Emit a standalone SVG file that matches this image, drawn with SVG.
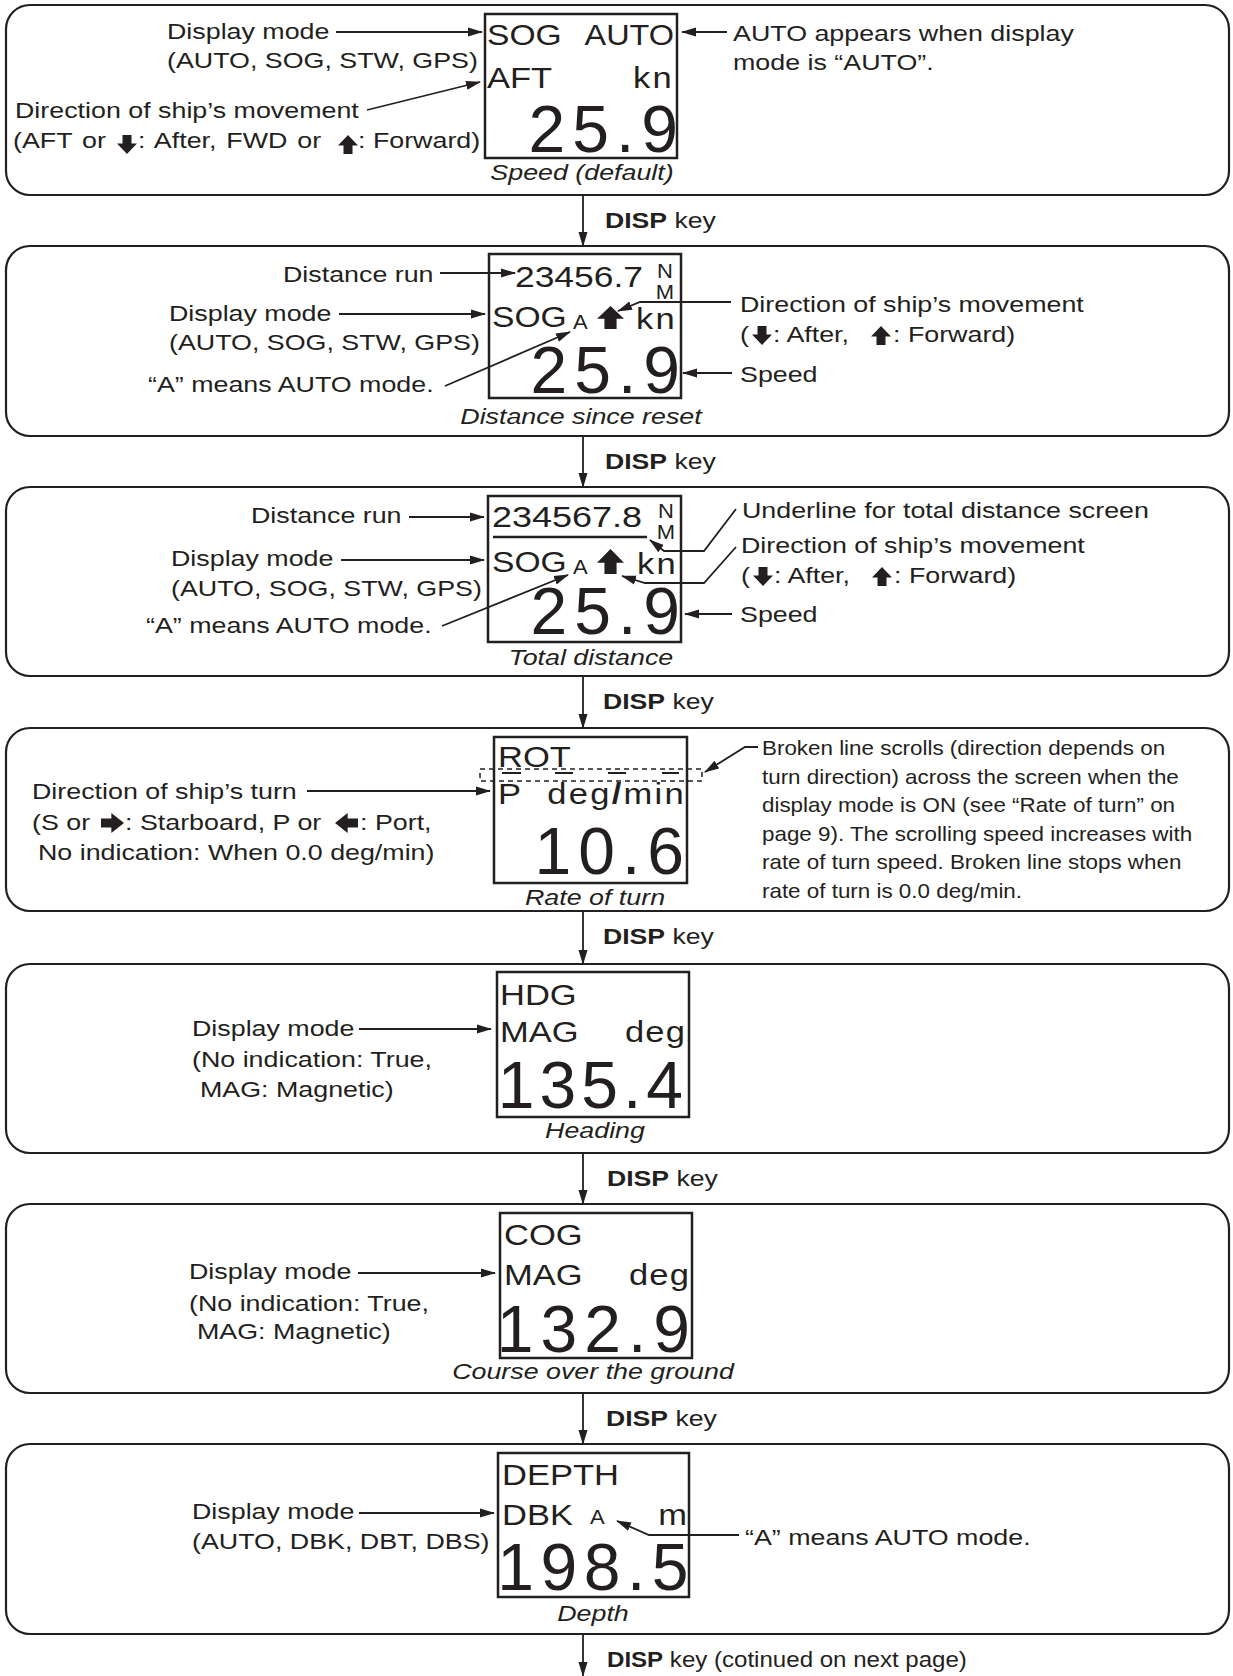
<svg xmlns="http://www.w3.org/2000/svg" xmlns:xlink="http://www.w3.org/1999/xlink" width="1233" height="1676" viewBox="0 0 1233 1676">
<style>
text{font-family:"Liberation Sans",Arial,Helvetica,sans-serif;fill:#231f20;font-size:22px}
.i{font-style:italic}
.b{font-weight:bold}
.d{font-size:30px}
.big{font-size:66px}
.s{font-size:20px}
.e{text-anchor:end}
.m{text-anchor:middle}
.w{word-spacing:2px}
.panel{fill:#fff;stroke:#231f20;stroke-width:2.2}
.scr{fill:none;stroke:#231f20;stroke-width:2.5}
.ar{fill:none;stroke:#231f20;stroke-width:1.8;marker-end:url(#ah)}
</style>
<defs>
<marker id="ah" markerWidth="15" markerHeight="10" refX="14" refY="5" orient="auto" markerUnits="userSpaceOnUse"><path d="M0,0.5 L15,5 L0,9.5 Z" fill="#231f20"/></marker>
<symbol id="up" viewBox="0 0 20 20" preserveAspectRatio="none"><path d="M10,0 L20,11 L14.5,11 L14.5,20 L5.5,20 L5.5,11 L0,11 Z" fill="#231f20"/></symbol>
<symbol id="dn" viewBox="0 0 20 20" preserveAspectRatio="none"><path d="M10,20 L20,9 L14.5,9 L14.5,0 L5.5,0 L5.5,9 L0,9 Z" fill="#231f20"/></symbol>
<symbol id="rt" viewBox="0 0 20 20" preserveAspectRatio="none"><path d="M20,10 L9,0 L9,5.5 L0,5.5 L0,14.5 L9,14.5 L9,20 Z" fill="#231f20"/></symbol>
<symbol id="lt" viewBox="0 0 20 20" preserveAspectRatio="none"><path d="M0,10 L11,0 L11,5.5 L20,5.5 L20,14.5 L11,14.5 L11,20 Z" fill="#231f20"/></symbol>
</defs>
<rect width="1233" height="1676" fill="#fff"/>

<g id="panel-1">
<rect class="panel" x="6" y="5" width="1223" height="190" rx="24"/>
<rect class="scr" x="485" y="14" width="192" height="144"/>
<text class="d" transform="matrix(1.12 0 0 1 487 45)">SOG</text>
<text class="d e" transform="matrix(1.08 0 0 1 674 45)">AUTO</text>
<text class="d" transform="matrix(1.15 0 0 1 487 88)">AFT</text>
<text class="d e" transform="matrix(1.15 0 0 1 674 88)" letter-spacing="2">kn</text>
<text class="big e" x="685" y="152" letter-spacing="7">25.9</text>
<text class="i m" transform="matrix(1.22 0 0 1 582 180)">Speed (default)</text>
<text transform="matrix(1.22 0 0 1 167 39)">Display mode</text>
<line class="ar" x1="336" y1="32" x2="482" y2="32"/>
<text transform="matrix(1.22 0 0 1 167 68)">(AUTO, SOG, STW, GPS)</text>
<text transform="matrix(1.22 0 0 1 15 118)">Direction of ship’s movement</text>
<line class="ar" x1="367" y1="110" x2="480" y2="82"/>
<text class="w" transform="matrix(1.22 0 0 1 13 148)">(AFT or</text>
<use xlink:href="#dn" x="117" y="135" width="20" height="19"/>
<text class="w" transform="matrix(1.22 0 0 1 138 148)">: After, FWD or</text>
<use xlink:href="#up" x="338" y="135" width="20" height="19"/>
<text transform="matrix(1.22 0 0 1 358 148)">: Forward)</text>
<line class="ar" x1="727" y1="32" x2="682" y2="32"/>
<text transform="matrix(1.22 0 0 1 733 41)">AUTO appears when display</text>
<text transform="matrix(1.22 0 0 1 733 70)">mode is “AUTO”.</text>
</g>

<g id="panel-2">
<rect class="panel" x="6" y="246" width="1223" height="190" rx="24"/>
<rect class="scr" x="489" y="254" width="192" height="144"/>
<text class="d" transform="matrix(1.18 0 0 1 515 287)">23456.7</text>
<text class="s m" transform="matrix(1.1 0 0 1 665 278)">N</text>
<text class="s m" transform="matrix(1.1 0 0 1 665 299)">M</text>
<text class="d" transform="matrix(1.12 0 0 1 492 327)">SOG</text>
<text class="s" transform="matrix(1.1 0 0 1 573 329)">A</text>
<use xlink:href="#up" x="597" y="306" width="27" height="23"/>
<text class="d e" transform="matrix(1.15 0 0 1 677 329)" letter-spacing="2">kn</text>
<text class="big e" x="687" y="393" letter-spacing="7">25.9</text>
<text class="i m" transform="matrix(1.22 0 0 1 581 424)">Distance since reset</text>
<text transform="matrix(1.22 0 0 1 283 282)">Distance run</text>
<line class="ar" x1="440" y1="273" x2="515" y2="273"/>
<text transform="matrix(1.22 0 0 1 169 321)">Display mode</text>
<line class="ar" x1="339" y1="314" x2="485" y2="314"/>
<text transform="matrix(1.22 0 0 1 169 350)">(AUTO, SOG, STW, GPS)</text>
<text transform="matrix(1.22 0 0 1 148 392)">“A” means AUTO mode.</text>
<line class="ar" x1="445" y1="386" x2="570" y2="332"/>
<polyline class="ar" points="731,302 640,302 618,311"/>
<text transform="matrix(1.22 0 0 1 740 312)">Direction of ship’s movement</text>
<text transform="matrix(1.22 0 0 1 740 342)">(</text>
<use xlink:href="#dn" x="752" y="326" width="20" height="19"/>
<text transform="matrix(1.22 0 0 1 773 342)">: After,</text>
<use xlink:href="#up" x="871" y="326" width="20" height="19"/>
<text transform="matrix(1.22 0 0 1 893 342)">: Forward)</text>
<line class="ar" x1="732" y1="373" x2="683" y2="373"/>
<text transform="matrix(1.22 0 0 1 740 382)">Speed</text>
</g>

<g id="panel-3">
<rect class="panel" x="6" y="487" width="1223" height="189" rx="24"/>
<rect class="scr" x="488" y="496" width="193" height="146"/>
<text class="d" transform="matrix(1.2 0 0 1 492 527)">234567.8</text>
<line x1="493" y1="537" x2="647" y2="537" stroke="#231f20" stroke-width="2.5"/>
<text class="s m" transform="matrix(1.1 0 0 1 666 518)">N</text>
<text class="s m" transform="matrix(1.1 0 0 1 666 539)">M</text>
<text class="d" transform="matrix(1.12 0 0 1 492 572)">SOG</text>
<text class="s" transform="matrix(1.1 0 0 1 573 574)">A</text>
<use xlink:href="#up" x="597" y="549" width="27" height="25"/>
<text class="d e" transform="matrix(1.15 0 0 1 678 574)" letter-spacing="2">kn</text>
<text class="big e" x="687" y="634" letter-spacing="7">25.9</text>
<text class="i m" transform="matrix(1.22 0 0 1 591 665)">Total distance</text>
<text transform="matrix(1.22 0 0 1 251 523)">Distance run</text>
<line class="ar" x1="409" y1="517" x2="484" y2="517"/>
<text transform="matrix(1.22 0 0 1 171 566)">Display mode</text>
<line class="ar" x1="341" y1="560" x2="484" y2="560"/>
<text transform="matrix(1.22 0 0 1 171 596)">(AUTO, SOG, STW, GPS)</text>
<text transform="matrix(1.22 0 0 1 146 633)">“A” means AUTO mode.</text>
<line class="ar" x1="442" y1="626" x2="568" y2="575"/>
<polyline class="ar" points="736,509 704,551 664,551 650,540"/>
<text transform="matrix(1.22 0 0 1 742 518)">Underline for total distance screen</text>
<polyline class="ar" points="736,547 704,583 645,583 622,576"/>
<text transform="matrix(1.22 0 0 1 741 553)">Direction of ship’s movement</text>
<text transform="matrix(1.22 0 0 1 741 583)">(</text>
<use xlink:href="#dn" x="753" y="567" width="20" height="19"/>
<text transform="matrix(1.22 0 0 1 774 583)">: After,</text>
<use xlink:href="#up" x="872" y="567" width="20" height="19"/>
<text transform="matrix(1.22 0 0 1 894 583)">: Forward)</text>
<line class="ar" x1="732" y1="614" x2="685" y2="614"/>
<text transform="matrix(1.22 0 0 1 740 622)">Speed</text>
</g>

<g id="panel-4">
<rect class="panel" x="6" y="728" width="1223" height="183" rx="24"/>
<rect class="scr" x="494" y="737" width="193" height="146"/>
<text class="d" transform="matrix(1.15 0 0 1 498 767)">ROT</text>
<rect x="480" y="769" width="222" height="12" fill="none" stroke="#231f20" stroke-width="1.5" stroke-dasharray="5 4"/>
<g stroke="#231f20" stroke-width="2">
<line x1="502" y1="773" x2="521" y2="773"/>
<line x1="555" y1="773" x2="573" y2="773"/>
<line x1="608" y1="773" x2="626" y2="773"/>
<line x1="662" y1="773" x2="679" y2="773"/>
</g>
<text class="d" transform="matrix(1.15 0 0 1 498 804)">P</text>
<text class="d e" transform="matrix(1.15 0 0 1 686 804)" letter-spacing="2">deg<tspan font-weight="bold">/</tspan>min</text>
<text class="big e" x="691" y="874" letter-spacing="7">10.6</text>
<text class="i m" transform="matrix(1.22 0 0 1 595 905)">Rate of turn</text>
<text transform="matrix(1.22 0 0 1 32 799)">Direction of ship’s turn</text>
<line class="ar" x1="307" y1="791" x2="490" y2="791"/>
<text transform="matrix(1.22 0 0 1 32 830)">(S or</text>
<use xlink:href="#rt" x="101" y="813" width="23" height="20"/>
<text transform="matrix(1.22 0 0 1 125 830)">: Starboard, P or</text>
<use xlink:href="#lt" x="335" y="813" width="23" height="20"/>
<text transform="matrix(1.22 0 0 1 360 830)">: Port,</text>
<text transform="matrix(1.22 0 0 1 38 860)">No indication: When 0.0 deg/min)</text>
<polyline class="ar" points="758,747 745,747 705,772"/>
<text class="s" transform="matrix(1.12 0 0 1 762 755)">Broken line scrolls (direction depends on</text>
<text class="s" transform="matrix(1.12 0 0 1 762 784)">turn direction) across the screen when the</text>
<text class="s" transform="matrix(1.12 0 0 1 762 812)">display mode is ON (see “Rate of turn” on</text>
<text class="s" transform="matrix(1.12 0 0 1 762 841)">page 9). The scrolling speed increases with</text>
<text class="s" transform="matrix(1.12 0 0 1 762 869)">rate of turn speed. Broken line stops when</text>
<text class="s" transform="matrix(1.12 0 0 1 762 898)">rate of turn is 0.0 deg/min.</text>
</g>

<g id="panel-5">
<rect class="panel" x="6" y="964" width="1223" height="189" rx="24"/>
<rect class="scr" x="497" y="972" width="192" height="145"/>
<text class="d" transform="matrix(1.15 0 0 1 500 1005)">HDG</text>
<text class="d" transform="matrix(1.15 0 0 1 500 1042)">MAG</text>
<text class="d e" transform="matrix(1.15 0 0 1 686 1042)" letter-spacing="1">deg</text>
<text class="big e" x="688" y="1108" letter-spacing="5">135.4</text>
<text class="i m" transform="matrix(1.22 0 0 1 595 1138)">Heading</text>
<text transform="matrix(1.22 0 0 1 192 1036)">Display mode</text>
<line class="ar" x1="359" y1="1029" x2="491" y2="1029"/>
<text transform="matrix(1.22 0 0 1 192 1067)">(No indication: True,</text>
<text transform="matrix(1.22 0 0 1 200 1097)">MAG: Magnetic)</text>
</g>

<g id="panel-6">
<rect class="panel" x="6" y="1204" width="1223" height="189" rx="24"/>
<rect class="scr" x="500" y="1213" width="192" height="145"/>
<text class="d" transform="matrix(1.15 0 0 1 504 1245)">COG</text>
<text class="d" transform="matrix(1.15 0 0 1 504 1285)">MAG</text>
<text class="d e" transform="matrix(1.15 0 0 1 690 1285)" letter-spacing="1">deg</text>
<text class="big e" x="697" y="1352" letter-spacing="7">132.9</text>
<text class="i m" transform="matrix(1.22 0 0 1 593 1379)">Course over the ground</text>
<text transform="matrix(1.22 0 0 1 189 1279)">Display mode</text>
<line class="ar" x1="358" y1="1273" x2="495" y2="1273"/>
<text transform="matrix(1.22 0 0 1 189 1311)">(No indication: True,</text>
<text transform="matrix(1.22 0 0 1 197 1339)">MAG: Magnetic)</text>
</g>

<g id="panel-7">
<rect class="panel" x="6" y="1444" width="1223" height="190" rx="24"/>
<rect class="scr" x="498" y="1453" width="191" height="144"/>
<text class="d" transform="matrix(1.15 0 0 1 502 1485)">DEPTH</text>
<text class="d" transform="matrix(1.15 0 0 1 502 1525)">DBK</text>
<text class="s" transform="matrix(1.1 0 0 1 590 1524)">A</text>
<text class="d e" transform="matrix(1.15 0 0 1 687 1525)">m</text>
<text class="big e" x="695" y="1590" letter-spacing="6.5">198.5</text>
<text class="i m" transform="matrix(1.22 0 0 1 593 1621)">Depth</text>
<text transform="matrix(1.22 0 0 1 192 1519)">Display mode</text>
<line class="ar" x1="359" y1="1513" x2="494" y2="1513"/>
<text transform="matrix(1.22 0 0 1 192 1549)">(AUTO, DBK, DBT, DBS)</text>
<polyline class="ar" points="739,1535 649,1535 617,1521"/>
<text transform="matrix(1.22 0 0 1 745 1545)">“A” means AUTO mode.</text>
</g>

<g id="connectors">
<line class="ar" x1="583" y1="195" x2="583" y2="246"/>
<text transform="matrix(1.21 0 0 1 605 228)"><tspan class="b">DISP</tspan> key</text>
<line class="ar" x1="583" y1="436" x2="583" y2="487"/>
<text transform="matrix(1.21 0 0 1 605 469)"><tspan class="b">DISP</tspan> key</text>
<line class="ar" x1="583" y1="676" x2="583" y2="728"/>
<text transform="matrix(1.21 0 0 1 603 709)"><tspan class="b">DISP</tspan> key</text>
<line class="ar" x1="583" y1="911" x2="583" y2="964"/>
<text transform="matrix(1.21 0 0 1 603 944)"><tspan class="b">DISP</tspan> key</text>
<line class="ar" x1="583" y1="1153" x2="583" y2="1204"/>
<text transform="matrix(1.21 0 0 1 607 1186)"><tspan class="b">DISP</tspan> key</text>
<line class="ar" x1="583" y1="1393" x2="583" y2="1444"/>
<text transform="matrix(1.21 0 0 1 606 1426)"><tspan class="b">DISP</tspan> key</text>
<line class="ar" x1="583" y1="1634" x2="583" y2="1676"/>
<text transform="matrix(1.095 0 0 1 607 1667)"><tspan class="b">DISP</tspan> key (cotinued on next page)</text>
</g>
</svg>
